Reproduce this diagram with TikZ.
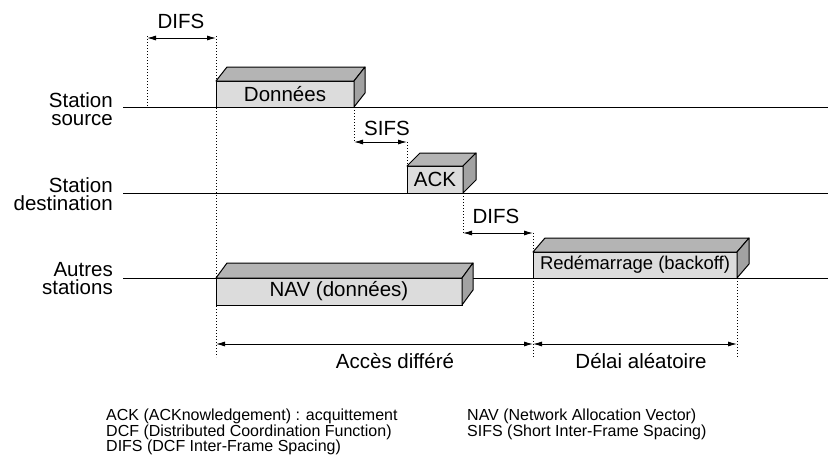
\documentclass[tikz,border=0pt]{standalone}
\usepackage{fontspec}
\setmainfont{Liberation Sans}
\usetikzlibrary{arrows.meta,calc}
\definecolor{frontc}{HTML}{DCDCDC}
\definecolor{topc}{HTML}{B4B4B4}
\definecolor{sidec}{HTML}{A2A2A2}
\tikzset{
 lbl/.style={font=\fontsize{20.5}{18.5}\selectfont, inner sep=0pt, align=right, anchor=north east},
 face/.style={draw=black, fill=frontc, line width=1pt, inner sep=0pt, outer sep=0pt, anchor=south west, font=\fontsize{20.5}{24}\selectfont},
 axis/.style={line width=1pt},
 guide/.style={line width=0.9pt, dash pattern=on 1.3pt off 1.7pt},
 span/.style={line width=0.9pt, {Latex[length=9pt,width=5pt]}-{Latex[length=9pt,width=5pt]}},
 txt/.style={font=\fontsize{20.5}{24}\selectfont, inner sep=0pt, anchor=base},
 leg/.style={font=\fontsize{16}{15.5}\selectfont, inner sep=0pt, align=left, anchor=north west}
}
\newcommand\depthbox[3]{%
 \filldraw[fill=topc, line width=1pt, line join=round] (#1.north west) -- ++(#2,-#3) -- ($(#1.north east)+(#2,-#3)$) -- (#1.north east) -- cycle;
 \filldraw[fill=sidec, line width=1pt, line join=round] (#1.north east) -- ++(#2,-#3) -- ($(#1.south east)+(#2,-#3)$) -- (#1.south east) -- cycle;}
\begin{document}
\begin{tikzpicture}[x=1pt,y=-1pt]
\useasboundingbox (0,0) rectangle (830,461);
% station axes
\coordinate (s0) at (123,107); \coordinate (s1) at (828,107);
\coordinate (d0) at (123,193); \coordinate (d1) at (828,193);
\coordinate (a0) at (123,278); \coordinate (a1) at (828,278);
\draw[axis] (s0) -- (s1);
\draw[axis] (d0) -- (d1);
\draw[axis] (a0) -- (a1);
% station labels
\node[lbl] (srcl) at (113,92) {Station\\source};
\node[lbl] (dstl) at (113,177) {Station\\destination};
\node[lbl] (othl) at (113,262) {Autres\\stations};
% dotted guides
\coordinate (g1t) at (147,36); \coordinate (g1b) at (147,107);
\coordinate (g2t) at (216,36); \coordinate (g2b) at (216,357);
\coordinate (g3t) at (354,107); \coordinate (g3b) at (354,142);
\coordinate (g4t) at (407,142); \coordinate (g4b) at (407,166);
\coordinate (g5t) at (463,193); \coordinate (g5b) at (463,233);
\coordinate (g6t) at (533,233); \coordinate (g6b) at (533,357);
\coordinate (g7t) at (737,278); \coordinate (g7b) at (737,357);
\foreach \g in {g1,g2,g3,g4,g5,g6,g7} \draw[guide] (\g t) -- (\g b);
% boxes
\node[face, minimum width=138, minimum height=26] (don) at (216,107) {Données};
\depthbox{don}{11}{14}
\node[face, minimum width=56, minimum height=27] (ack) at (407,193) {ACK};
\depthbox{ack}{13}{13}
\node[face, minimum width=246, minimum height=27, anchor=north west] (nav) at (216,278) {NAV (données)};
\depthbox{nav}{11}{15}
\node[face, minimum width=204, minimum height=26, font=\fontsize{18.5}{22}\selectfont] (red) at (533,278) {Redémarrage (backoff)};
\depthbox{red}{12}{14}
% spans
\coordinate (p1a) at (147,38); \coordinate (p1b) at (216,38);
\coordinate (p2a) at (354,142); \coordinate (p2b) at (407,142);
\coordinate (p3a) at (463,233); \coordinate (p3b) at (533,233);
\coordinate (p4a) at (216,344); \coordinate (p4b) at (533,344);
\coordinate (p5a) at (533,344); \coordinate (p5b) at (737,344);
\draw[span] (p1a) -- (p1b);
\draw[span] (p2a) -- (p2b);
\draw[span] (p3a) -- (p3b);
\draw[span] (p4a) -- (p4b);
\draw[span] (p5a) -- (p5b);
% span labels
\node[txt] (difs1) at (181,28) {DIFS};
\node[txt] (sifs) at (387,135) {SIFS};
\node[txt] (difs2) at (496,223) {DIFS};
\node[txt] (acc) at (395,368) {Accès différé};
\node[txt] (del) at (641,368) {Délai aléatoire};
% legend
\node[leg] (leg1) at (106,409) {ACK (ACKnowledgement) : acquittement\\DCF (Distributed Coordination Function)\\DIFS (DCF Inter-Frame Spacing)};
\node[leg] (leg2) at (467,409) {NAV (Network Allocation Vector)\\SIFS (Short Inter-Frame Spacing)};
\end{tikzpicture}
\end{document}
